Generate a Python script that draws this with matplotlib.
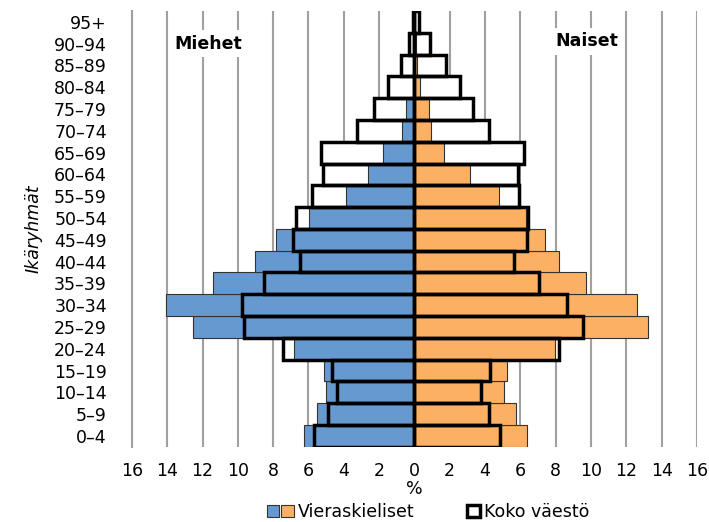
import matplotlib.pyplot as plt
from matplotlib.patches import Patch, Rectangle
from matplotlib.legend_handler import HandlerTuple, HandlerPatch

ryhmat = ["0–4", "5–9", "10–14", "15–19", "20–24", "25–29", "30–34", "35–39",
          "40–44", "45–49", "50–54", "55–59", "60–64", "65–69", "70–74", "75–79",
          "80–84", "85–89", "90–94", "95+"]

miehet_vieras = [6.23, 5.5, 5.0, 5.1, 6.8, 12.53, 14.04, 11.4, 9.0, 7.83, 5.95,
                 3.9, 2.6, 1.8, 0.7, 0.5, 0.1, 0.05, 0.02, 0.0]
naiset_vieras = [6.38, 5.78, 5.1, 5.27, 7.98, 13.2, 12.6, 9.74, 8.2, 7.4, 6.3,
                 4.8, 3.17, 1.7, 0.95, 0.85, 0.3, 0.15, 0.1, 0.02]
miehet_koko = [5.7, 4.87, 4.36, 4.66, 7.47, 9.63, 9.74, 8.5, 6.5, 6.87, 6.7,
               5.8, 5.2, 5.27, 3.25, 2.3, 1.5, 0.75, 0.3, 0.1]
naiset_koko = [4.87, 4.25, 3.79, 4.3, 8.2, 9.55, 8.66, 7.08, 5.66, 6.38, 6.45,
               5.95, 5.85, 6.2, 4.2, 3.3, 2.6, 1.8, 0.9, 0.25]
xtiikit = [-16, -14, -12, -10, -8, -6, -4, -2, 0, 2, 4, 6, 8, 10, 12, 14, 16]

sininen = "#6699d0"
oranssi = "#fbb063"


def nelio(legend, orig_handle, xdescent, ydescent, width, height, fontsize):
    # square legend key, aligned right in its slot
    return Rectangle((-xdescent + width - height, -ydescent), height, height)


fig = plt.figure(figsize=(7.09, 5.22), dpi=100)
ax = fig.add_axes([0.186, 0.144, 0.797, 0.835])

y = list(range(len(ryhmat)))
mk = [-v for v in miehet_koko]
mv = [-v for v in miehet_vieras]

# koko väestö white fill behind
ax.barh(y, mk, height=1, color="white", edgecolor="none", zorder=2)
ax.barh(y, naiset_koko, height=1, color="white", edgecolor="none", zorder=2)
# vieraskieliset
ax.barh(y, mv, height=1, color=sininen, edgecolor="#333333", linewidth=0.8, zorder=3)
ax.barh(y, naiset_vieras, height=1, color=oranssi, edgecolor="#333333", linewidth=0.8, zorder=3)
# koko väestö outline on top
ax.barh(y, mk, height=1, fill=False, edgecolor="black", linewidth=2.5, zorder=4)
ax.barh(y, naiset_koko, height=1, fill=False, edgecolor="black", linewidth=2.5, zorder=4)
ax.axvline(0, color="black", linewidth=2, zorder=5)

ax.set_xlim(-16, 16)
ax.set_ylim(-0.5, len(ryhmat) - 0.5)
ax.set_xticks(xtiikit)
ax.set_xticklabels([str(abs(t)) for t in xtiikit], fontsize=12.5)
ax.set_yticks(y)
ax.set_yticklabels(ryhmat, fontsize=12.5)
ax.tick_params(length=0)
ax.tick_params(axis="y", pad=18)
ax.tick_params(axis="x", pad=11)
ax.grid(axis="x", color="#a0a0a0", linewidth=1.5, zorder=0)
ax.set_axisbelow(True)
for s in ["top", "right", "bottom"]:
    ax.spines[s].set_visible(False)
ax.spines["left"].set_color("#a0a0a0")
ax.spines["left"].set_linewidth(1.5)

ax.set_xlabel("%", fontsize=12.5, labelpad=0)
ax.set_ylabel("Ikäryhmät", fontsize=12.5, style="italic", labelpad=8)

ax.text(-13.6, 18.0, "Miehet", fontsize=12.5, fontweight="bold", ha="left", va="center",
        bbox=dict(facecolor="white", edgecolor="none", pad=3), zorder=6)
ax.text(8.0, 18.1, "Naiset", fontsize=12.5, fontweight="bold", ha="left", va="center",
        bbox=dict(facecolor="white", edgecolor="none", pad=3), zorder=6)

h1 = Patch(facecolor=sininen, edgecolor="#333333", linewidth=0.8)
h2 = Patch(facecolor=oranssi, edgecolor="#333333", linewidth=0.8)
h3 = Patch(facecolor="white", edgecolor="black", linewidth=2.5)
fig.legend([(h1, h2), h3], ["Vieraskieliset", "Koko väestö"],
           handler_map={tuple: HandlerTuple(ndivide=None, pad=0.0),
                        Patch: HandlerPatch(patch_func=nelio)},
           loc="lower center", bbox_to_anchor=(0.602, -0.028), ncol=2, frameon=False,
           fontsize=12.5, handlelength=1.7, handleheight=0.75, handletextpad=0.2,
           columnspacing=2.1)

fig.savefig("out.png", dpi=100)
